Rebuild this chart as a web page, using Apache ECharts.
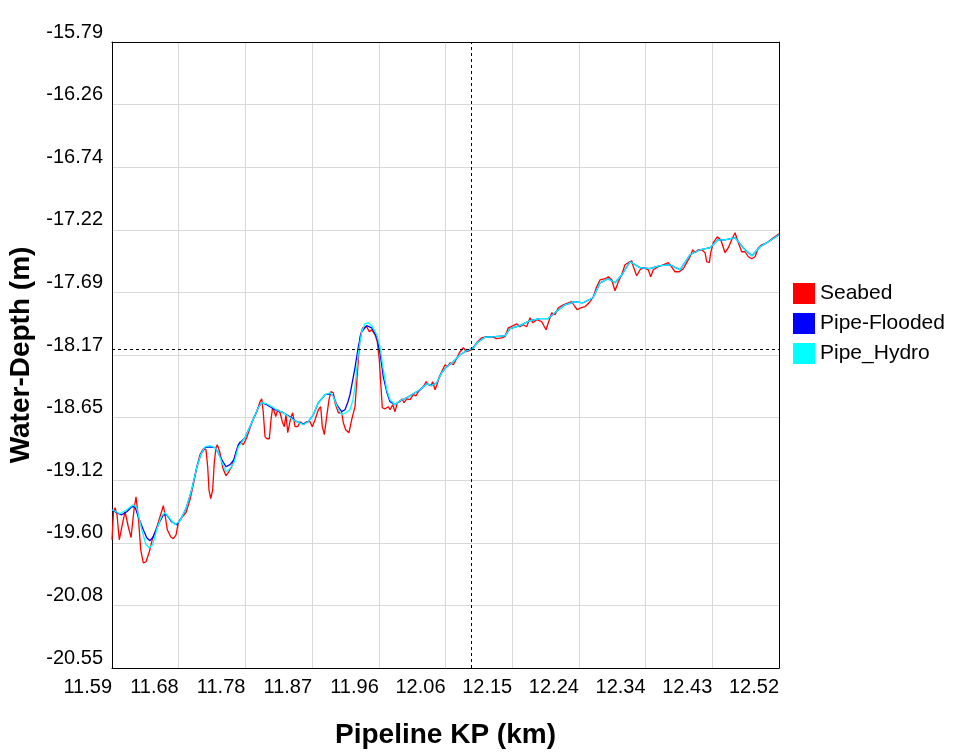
<!DOCTYPE html>
<html>
<head>
<meta charset="utf-8">
<title>Water Depth</title>
<script src="https://cdn.jsdelivr.net/npm/echarts@6/dist/echarts.min.js"></script>
<style>
    html, body { margin: 0; padding: 0; background: #fff; }
    #chart { width: 960px; height: 753px; }
</style>
</head>
<body>
<div id="chart"></div>
<script>
// 轴刻度
var xTickLabels = ['11.59', '11.68', '11.78', '11.87', '11.96', '12.06', '12.15', '12.24', '12.34', '12.43', '12.52'];
var yTickLabels = ['-20.55', '-20.08', '-19.60', '-19.12', '-18.65', '-18.17', '-17.69', '-17.22', '-16.74', '-16.26', '-15.79'];
var xMin = 11.5867, xMax = 12.52, xStep = 0.09333;
var yMin = -20.552, yMax = -15.792, yStep = 0.476;

// 光标位置
var cursorKP = 12.0862;
var cursorDepth = -18.132;

var seriesNames = ['Seabed', 'Pipe-Flooded', 'Pipe_Hydro'];

// [KP, depth]
var seabed = [
    [11.5867, -19.577], [11.5888, -19.364], [11.5909, -19.333], [11.5937, -19.387], [11.5969, -19.577],
    [11.6017, -19.447], [11.6049, -19.364], [11.6095, -19.478], [11.6133, -19.561], [11.6175, -19.349],
    [11.6203, -19.250], [11.6235, -19.402], [11.6269, -19.653], [11.6305, -19.752], [11.6343, -19.744],
    [11.6389, -19.668], [11.6437, -19.561], [11.6492, -19.485], [11.6539, -19.402], [11.6585, -19.318],
    [11.6613, -19.402], [11.6641, -19.501], [11.6688, -19.554], [11.6725, -19.569], [11.6763, -19.539],
    [11.6795, -19.447], [11.6842, -19.409], [11.6902, -19.371], [11.6958, -19.273], [11.7005, -19.158],
    [11.7052, -19.029], [11.7098, -18.930], [11.7145, -18.885], [11.7182, -18.892], [11.7206, -19.022],
    [11.7224, -19.197], [11.7248, -19.265], [11.7276, -19.197], [11.7298, -18.991], [11.7322, -18.877],
    [11.7340, -18.854], [11.7378, -18.915], [11.7416, -19.029], [11.7462, -19.090], [11.7494, -19.067],
    [11.7542, -19.022], [11.7612, -18.892], [11.7658, -18.832], [11.7704, -18.854], [11.7752, -18.801],
    [11.7822, -18.687], [11.7892, -18.603], [11.7938, -18.527], [11.7962, -18.505], [11.7984, -18.611],
    [11.8008, -18.794], [11.8036, -18.809], [11.8068, -18.809], [11.8092, -18.664], [11.8116, -18.565],
    [11.8138, -18.558], [11.8158, -18.641], [11.8186, -18.588], [11.8218, -18.611], [11.8250, -18.679],
    [11.8278, -18.717], [11.8302, -18.626], [11.8326, -18.763], [11.8348, -18.778], [11.8372, -18.641],
    [11.8396, -18.611], [11.8428, -18.717], [11.8466, -18.717], [11.8498, -18.679], [11.8544, -18.702],
    [11.8591, -18.679], [11.8638, -18.679], [11.8670, -18.717], [11.8708, -18.664], [11.8754, -18.588],
    [11.8787, -18.565], [11.8810, -18.717], [11.8838, -18.778], [11.8871, -18.641], [11.8903, -18.512],
    [11.8931, -18.451], [11.8964, -18.459], [11.8987, -18.535], [11.9034, -18.611], [11.9081, -18.611],
    [11.9104, -18.687], [11.9137, -18.740], [11.9183, -18.763], [11.9221, -18.664], [11.9267, -18.565],
    [11.9314, -18.208], [11.9337, -18.033], [11.9375, -17.965], [11.9431, -17.957], [11.9467, -17.995],
    [11.9501, -17.980], [11.9547, -18.018], [11.9579, -18.071], [11.9607, -18.208], [11.9627, -18.383],
    [11.9649, -18.573], [11.9687, -18.581], [11.9733, -18.565], [11.9757, -18.588], [11.9795, -18.550],
    [11.9827, -18.603], [11.9859, -18.535], [11.9897, -18.527], [11.9925, -18.505], [11.9953, -18.535],
    [11.9991, -18.505], [12.0037, -18.512], [12.0083, -18.474], [12.0121, -18.482], [12.0153, -18.451],
    [12.0177, -18.459], [12.0223, -18.413], [12.0261, -18.375], [12.0293, -18.398], [12.0327, -18.406],
    [12.0355, -18.375], [12.0387, -18.436], [12.0419, -18.390], [12.0447, -18.337], [12.0480, -18.299],
    [12.0527, -18.246], [12.0559, -18.261], [12.0597, -18.231], [12.0643, -18.246], [12.0681, -18.208],
    [12.0727, -18.155], [12.0783, -18.117], [12.0830, -18.147], [12.0900, -18.132], [12.0970, -18.079],
    [12.1040, -18.041], [12.1110, -18.033], [12.1180, -18.033], [12.1250, -18.048], [12.1320, -18.041],
    [12.1366, -18.033], [12.1412, -17.965], [12.1482, -17.949], [12.1530, -17.934], [12.1576, -17.957],
    [12.1622, -17.942], [12.1670, -17.957], [12.1716, -17.889], [12.1754, -17.927], [12.1810, -17.904],
    [12.1880, -17.919], [12.1940, -17.980], [12.1972, -17.927], [12.2020, -17.851], [12.2066, -17.866],
    [12.2112, -17.813], [12.2182, -17.790], [12.2252, -17.775], [12.2300, -17.767], [12.2346, -17.805],
    [12.2378, -17.828], [12.2426, -17.813], [12.2486, -17.805], [12.2556, -17.767], [12.2602, -17.729],
    [12.2649, -17.653], [12.2696, -17.600], [12.2766, -17.592], [12.2812, -17.577], [12.2859, -17.600],
    [12.2905, -17.683], [12.2952, -17.615], [12.2999, -17.562], [12.3045, -17.486], [12.3092, -17.470],
    [12.3139, -17.455], [12.3162, -17.501], [12.3209, -17.569], [12.3255, -17.524], [12.3302, -17.508],
    [12.3371, -17.524], [12.3405, -17.577], [12.3441, -17.524], [12.3511, -17.501], [12.3581, -17.486],
    [12.3651, -17.470], [12.3685, -17.493], [12.3745, -17.539], [12.3805, -17.539], [12.3861, -17.516],
    [12.3909, -17.470], [12.3955, -17.425], [12.3993, -17.372], [12.4025, -17.394], [12.4071, -17.372],
    [12.4119, -17.372], [12.4165, -17.394], [12.4189, -17.463], [12.4225, -17.470], [12.4245, -17.394],
    [12.4281, -17.318], [12.4337, -17.273], [12.4385, -17.296], [12.4445, -17.394], [12.4491, -17.356],
    [12.4538, -17.296], [12.4585, -17.242], [12.4631, -17.318], [12.4678, -17.387], [12.4725, -17.387],
    [12.4771, -17.425], [12.4818, -17.440], [12.4865, -17.425], [12.4911, -17.356], [12.4958, -17.334],
    [12.5004, -17.326], [12.5051, -17.311], [12.5121, -17.280], [12.5200, -17.250]
];

var pipeFlooded = [
    [11.5867, -19.349], [11.5933, -19.371], [11.6003, -19.387], [11.6073, -19.364], [11.6143, -19.326],
    [11.6189, -19.326], [11.6235, -19.402], [11.6305, -19.501], [11.6353, -19.561], [11.6399, -19.584],
    [11.6445, -19.554], [11.6515, -19.463], [11.6585, -19.387], [11.6632, -19.387], [11.6702, -19.440],
    [11.6772, -19.463], [11.6842, -19.409], [11.6912, -19.326], [11.6982, -19.197], [11.7052, -19.029],
    [11.7108, -18.930], [11.7168, -18.877], [11.7238, -18.870], [11.7308, -18.877], [11.7354, -18.915],
    [11.7402, -18.968], [11.7462, -19.022], [11.7518, -19.006], [11.7574, -18.968], [11.7634, -18.854],
    [11.7728, -18.801], [11.7822, -18.687], [11.7914, -18.573], [11.7962, -18.535], [11.8032, -18.550],
    [11.8148, -18.588], [11.8264, -18.611], [11.8382, -18.649], [11.8452, -18.679], [11.8544, -18.695],
    [11.8614, -18.679], [11.8684, -18.626], [11.8754, -18.535], [11.8848, -18.474], [11.8917, -18.467],
    [11.8964, -18.482], [11.9011, -18.550], [11.9081, -18.603], [11.9127, -18.588], [11.9169, -18.527],
    [11.9197, -18.474], [11.9267, -18.269], [11.9314, -18.109], [11.9361, -17.995], [11.9431, -17.949],
    [11.9501, -17.965], [11.9571, -18.033], [11.9617, -18.155], [11.9663, -18.337], [11.9711, -18.451],
    [11.9757, -18.527], [11.9827, -18.550], [11.9897, -18.520], [11.9991, -18.497], [12.0083, -18.467],
    [12.0177, -18.436], [12.0271, -18.390], [12.0341, -18.406], [12.0411, -18.383], [12.0480, -18.307],
    [12.0550, -18.261], [12.0643, -18.223], [12.0737, -18.170], [12.0830, -18.140], [12.0923, -18.117],
    [12.0974, -18.079], [12.1086, -18.037], [12.1226, -18.033], [12.1366, -18.026], [12.1436, -17.972],
    [12.1576, -17.949], [12.1716, -17.911], [12.1856, -17.896], [12.1968, -17.896], [12.2080, -17.843],
    [12.2206, -17.790], [12.2346, -17.767], [12.2458, -17.775], [12.2598, -17.737], [12.2696, -17.623],
    [12.2808, -17.592], [12.2905, -17.623], [12.3003, -17.562], [12.3115, -17.463], [12.3255, -17.508],
    [12.3395, -17.516], [12.3535, -17.493], [12.3675, -17.486], [12.3815, -17.524], [12.3955, -17.410],
    [12.4095, -17.372], [12.4235, -17.356], [12.4347, -17.296], [12.4445, -17.296], [12.4585, -17.280],
    [12.4725, -17.372], [12.4823, -17.417], [12.4934, -17.349], [12.5074, -17.303], [12.5200, -17.258]
];

var pipeHydro = [
    [11.5867, -19.349], [11.5979, -19.379], [11.6073, -19.349], [11.6165, -19.311], [11.6213, -19.333],
    [11.6283, -19.501], [11.6343, -19.615], [11.6389, -19.638], [11.6437, -19.615], [11.6492, -19.501],
    [11.6562, -19.394], [11.6609, -19.371], [11.6679, -19.417], [11.6749, -19.463], [11.6819, -19.432],
    [11.6912, -19.326], [11.6982, -19.197], [11.7052, -19.029], [11.7108, -18.930], [11.7168, -18.870],
    [11.7238, -18.862], [11.7308, -18.877], [11.7354, -18.915], [11.7402, -18.984], [11.7462, -19.060],
    [11.7518, -19.037], [11.7574, -18.991], [11.7634, -18.870], [11.7728, -18.801], [11.7822, -18.687],
    [11.7914, -18.573], [11.7962, -18.535], [11.8032, -18.543], [11.8148, -18.581], [11.8264, -18.611],
    [11.8382, -18.657], [11.8452, -18.679], [11.8544, -18.702], [11.8614, -18.679], [11.8684, -18.626],
    [11.8754, -18.535], [11.8848, -18.474], [11.8917, -18.459], [11.8964, -18.489], [11.9011, -18.558],
    [11.9081, -18.626], [11.9137, -18.611], [11.9197, -18.588], [11.9239, -18.512], [11.9267, -18.413],
    [11.9314, -18.155], [11.9361, -17.995], [11.9407, -17.934], [11.9453, -17.927], [11.9501, -17.949],
    [11.9571, -18.018], [11.9617, -18.109], [11.9663, -18.284], [11.9711, -18.436], [11.9757, -18.512],
    [11.9827, -18.550], [11.9897, -18.520], [11.9991, -18.497], [12.0083, -18.467], [12.0177, -18.436],
    [12.0271, -18.390], [12.0341, -18.406], [12.0411, -18.383], [12.0480, -18.307], [12.0550, -18.261],
    [12.0643, -18.223], [12.0737, -18.170], [12.0830, -18.140], [12.0923, -18.117], [12.0974, -18.079],
    [12.1086, -18.037], [12.1226, -18.033], [12.1366, -18.026], [12.1436, -17.972], [12.1576, -17.949],
    [12.1716, -17.911], [12.1856, -17.896], [12.1968, -17.896], [12.2080, -17.843], [12.2206, -17.790],
    [12.2346, -17.767], [12.2458, -17.775], [12.2598, -17.737], [12.2696, -17.623], [12.2808, -17.592],
    [12.2905, -17.623], [12.3003, -17.562], [12.3115, -17.463], [12.3255, -17.508], [12.3395, -17.516],
    [12.3535, -17.493], [12.3675, -17.486], [12.3815, -17.524], [12.3955, -17.410], [12.4095, -17.372],
    [12.4235, -17.356], [12.4347, -17.296], [12.4445, -17.296], [12.4585, -17.280], [12.4725, -17.372],
    [12.4823, -17.417], [12.4934, -17.349], [12.5074, -17.303], [12.5200, -17.258]
];

var fontName = '"Liberation Sans", Arial, sans-serif';

depthChart()
function depthChart() {
    var myChart = echarts.init(document.getElementById('chart'));
    // 右侧和顶部的黑色边框轴
    var frameAxis = {
        axisLine: { show: true, lineStyle: { color: '#000', width: 1 } },
        axisTick: { show: false },
        axisLabel: { show: false },
        splitLine: { show: false }
    };
    var option = {
        backgroundColor: '#fff',
        animation: false,
        textStyle: { fontFamily: fontName },
        grid: {
            left: 112,
            top: 42,
            right: 181,
            bottom: 85,
            outerBoundsMode: 'none'
        },
        legend: {
            orient: 'vertical',
            left: 793,
            top: 283,
            padding: 0,
            icon: 'rect',
            itemWidth: 22,
            itemHeight: 21,
            itemGap: 9,
            data: seriesNames,
            textStyle: {
                color: '#000',
                fontSize: 21,
                fontFamily: fontName
            }
        },
        xAxis: [
            {
                type: 'value',
                min: xMin,
                max: xMax,
                interval: xStep,
                name: 'Pipeline KP (km)',
                nameLocation: 'middle',
                nameGap: 53,
                nameTextStyle: {
                    color: '#000',
                    fontSize: 28,
                    fontWeight: 'bold',
                    fontFamily: fontName
                },
                axisLine: { lineStyle: { color: '#000', width: 1 } },
                axisTick: { show: false },
                axisLabel: {
                    color: '#000',
                    fontSize: 20,
                    align: 'right',
                    margin: 9,
                    showMinLabel: true,
                    showMaxLabel: true,
                    formatter: function (value, index) {
                        return xTickLabels[index] !== undefined ? xTickLabels[index] : '';
                    }
                },
                splitLine: { lineStyle: { color: '#d9d9d9', width: 1 } }
            },
            Object.assign({ type: 'value', position: 'top', min: xMin, max: xMax }, frameAxis)
        ],
        yAxis: [
            {
                type: 'value',
                min: yMin,
                max: yMax,
                interval: yStep,
                name: 'Water-Depth (m)',
                nameLocation: 'middle',
                nameGap: 65,
                nameTextStyle: {
                    color: '#000',
                    fontSize: 28,
                    fontWeight: 'bold',
                    fontFamily: fontName
                },
                axisLine: { show: true, lineStyle: { color: '#000', width: 1 } },
                axisTick: { show: false },
                axisLabel: {
                    color: '#000',
                    fontSize: 20,
                    margin: 9,
                    verticalAlign: 'bottom',
                    showMinLabel: true,
                    showMaxLabel: true,
                    formatter: function (value, index) {
                        return yTickLabels[index] !== undefined ? yTickLabels[index] : '';
                    }
                },
                splitLine: { lineStyle: { color: '#d9d9d9', width: 1 } }
            },
            Object.assign({ type: 'value', position: 'right', min: yMin, max: yMax }, frameAxis)
        ],
        series: [
            {
                name: seriesNames[0],
                type: 'line',
                data: seabed,
                showSymbol: false,
                color: '#ff0000',
                lineStyle: { color: '#ff0000', width: 1.3 },
                markLine: {
                    silent: true,
                    symbol: ['none', 'none'],
                    label: { show: false },
                    lineStyle: { color: '#000', width: 1, type: [3, 3] },
                    data: [
                        { xAxis: cursorKP },
                        { yAxis: cursorDepth }
                    ]
                }
            },
            {
                name: seriesNames[1],
                type: 'line',
                data: pipeFlooded,
                showSymbol: false,
                color: '#0000ff',
                lineStyle: { color: '#0000ff', width: 1.3 }
            },
            {
                name: seriesNames[2],
                type: 'line',
                data: pipeHydro,
                showSymbol: false,
                color: '#00ffff',
                lineStyle: { color: '#00ffff', width: 1.3 }
            }
        ]
    };
    myChart.setOption(option);
}
</script>
</body>
</html>
